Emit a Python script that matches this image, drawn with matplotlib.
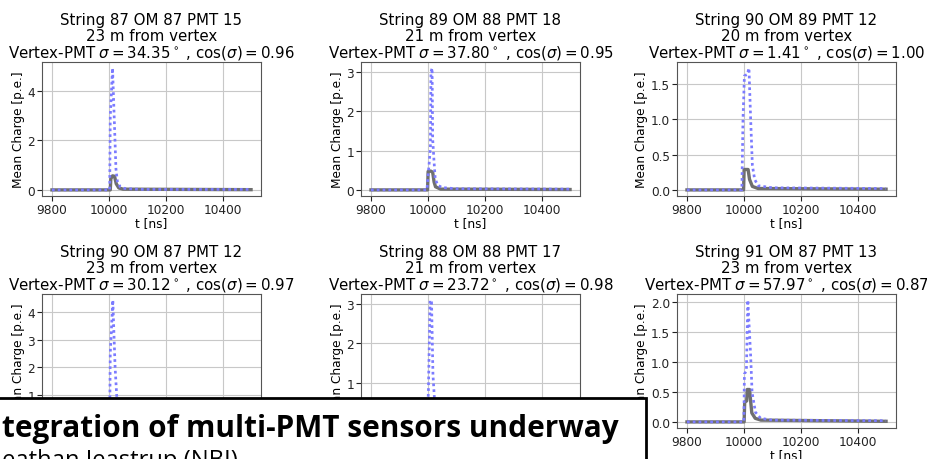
import matplotlib
matplotlib.use('Agg')
import matplotlib.pyplot as plt
from matplotlib.patches import Rectangle

plt.rcParams['font.family'] = ['DejaVu Sans']
plt.rcParams['mathtext.fontset'] = 'dejavusans'

# ---- data ----
strings = [87, 89, 90, 90, 88, 91]
oms = [87, 88, 89, 87, 88, 87]
pmts = [15, 18, 12, 12, 17, 13]
distances = [23, 21, 20, 23, 21, 23]
sigmas = ["34.35", "37.80", "1.41", "30.12", "23.72", "57.97"]
cosines = ["0.96", "0.95", "1.00", "0.97", "0.98", "0.87"]

blue1_t = [9800, 10003, 10005, 10013, 10025, 10030, 10040, 10055, 10080, 10120, 10500]
blue1_v = [0, 0, 2.95, 4.93, 0.85, 0.35, 0.12, 0.06, 0.04, 0.02, 0.02]
gray1_t = [9800, 10005, 10007, 10013, 10020, 10026, 10035, 10050, 10500]
gray1_v = [0, 0, 0.45, 0.57, 0.55, 0.25, 0.08, 0.03, 0.01]

blue2_t = [9800, 9997, 10000, 10005, 10009, 10011, 10015, 10017, 10022, 10026, 10035, 10050, 10100, 10500]
blue2_v = [0, 0, 0.3, 0.7, 1.1, 3.0, 3.1, 1.3, 0.7, 0.28, 0.12, 0.06, 0.03, 0.02]
gray2_t = [9800, 9999, 10001, 10010, 10017, 10022, 10027, 10045, 10500]
gray2_v = [0, 0, 0.47, 0.48, 0.45, 0.2, 0.08, 0.02, 0.01]

blue3_t = [9800, 9993, 9997, 10002, 10012, 10018, 10024, 10030, 10038, 10050, 10100, 10500]
blue3_v = [0, 0, 1.0, 1.62, 1.64, 1.73, 1.0, 0.35, 0.15, 0.06, 0.03, 0.02]
gray3_t = [9800, 9999, 10001, 10015, 10020, 10030, 10050, 10500]
gray3_v = [0, 0, 0.29, 0.29, 0.15, 0.05, 0.02, 0.01]

blue4_t = [9800, 10003, 10005, 10014, 10018, 10022, 10028, 10035, 10045, 10060, 10100, 10500]
blue4_v = [0, 0, 2.5, 4.45, 3.2, 2.0, 0.9, 0.4, 0.15, 0.06, 0.03, 0.02]
gray4_t = [9800, 10004, 10006, 10013, 10020, 10026, 10035, 10050, 10500]
gray4_v = [0, 0, 0.45, 0.52, 0.5, 0.22, 0.07, 0.03, 0.01]

blue5_t = [9800, 9998, 10002, 10008, 10013, 10018, 10024, 10032, 10045, 10100, 10500]
blue5_v = [0, 0, 0.8, 3.1, 3.05, 1.2, 0.5, 0.2, 0.08, 0.03, 0.02]
gray5_t = [9800, 9999, 10001, 10010, 10017, 10022, 10027, 10045, 10500]
gray5_v = [0, 0, 0.45, 0.47, 0.44, 0.2, 0.08, 0.02, 0.01]

blue6_t = [9800, 10000, 10002, 10009, 10014, 10024, 10029, 10041, 10059, 10100, 10500]
blue6_v = [0, 0, 0.8, 0.85, 2.03, 1.1, 0.49, 0.16, 0.06, 0.03, 0.02]
gray6_t = [9800, 10001, 10003, 10010, 10012, 10020, 10028, 10040, 10060, 10500]
gray6_v = [0, 0, 0.33, 0.35, 0.54, 0.54, 0.15, 0.06, 0.03, 0.01]

yticks_list = [[0, 2, 4], [0, 1, 2, 3], [0.0, 0.5, 1.0, 1.5],
               [0, 1, 2, 3, 4], [0, 1, 2, 3], [0.0, 0.5, 1.0, 1.5, 2.0]]
xticks = [9800, 10000, 10200, 10400]

banner_line1 = "tegration of multi-PMT sensors underway"
banner_line2 = "eathan Jeastrup (NBI)"

blues = [(blue1_t, blue1_v), (blue2_t, blue2_v), (blue3_t, blue3_v),
         (blue4_t, blue4_v), (blue5_t, blue5_v), (blue6_t, blue6_v)]
grays = [(gray1_t, gray1_v), (gray2_t, gray2_v), (gray3_t, gray3_v),
         (gray4_t, gray4_v), (gray5_t, gray5_v), (gray6_t, gray6_v)]

# ---- layout ----
W, H = 928, 460
fig = plt.figure(figsize=(W / 100, H / 100), dpi=100)
fig.patch.set_facecolor('white')

col_left = [42, 361, 677]
row_top = [63, 295]
ax_w, ax_h = 219, 134

for i in range(6):
    r, c = divmod(i, 3)
    l = col_left[c]
    t = row_top[r]
    ax = fig.add_axes([l / W, (H - t - ax_h) / H, ax_w / W, ax_h / H])
    gt, gv = grays[i]
    bt, bv = blues[i]
    ax.plot(gt, gv, color='#6f6f6f', lw=2.4, zorder=2)
    ax.plot(bt, bv, color='#7b7bff', lw=1.95, ls=(0, (1, 1.15)), zorder=3)
    ax.set_xticks(xticks)
    ax.set_yticks(yticks_list[i])
    ax.grid(True, color='#c8c8c8', lw=0.8)
    ax.set_axisbelow(True)
    ax.tick_params(labelsize=8.7, colors='#222222', pad=1.5)
    for s in ax.spines.values():
        s.set_color('#555555')
    ax.set_xlabel('t [ns]', fontsize=8.7, labelpad=0)
    ax.set_ylabel('Mean Charge [p.e.]', fontsize=8.7, labelpad=2)
    title = (f"String {strings[i]} OM {oms[i]} PMT {pmts[i]}\n"
             f"{distances[i]} m from vertex\n"
             f"Vertex-PMT $\\sigma = {sigmas[i]}^\\circ$ , $\\cos(\\sigma) = {cosines[i]}$")
    ax.set_title(title, fontsize=10.8, linespacing=1.02, pad=4)

# ---- overlay banner ----
rect = Rectangle((-10 / W, -20 / H), (646 + 10) / W, (H - 399 + 20) / H,
                 transform=fig.transFigure, facecolor='white', edgecolor='black',
                 lw=2.0, zorder=10)
fig.add_artist(rect)
t1 = fig.text(2 / W, (H - 437) / H, banner_line1, fontsize=18, fontweight='bold',
              family=['Open Sans', 'DejaVu Sans'], ha='left', va='baseline', zorder=11)
t2 = fig.text(2 / W, (H - 467) / H, banner_line2, fontsize=16,
              family=['Open Sans', 'DejaVu Sans'], ha='left', va='baseline', zorder=11)

renderer = fig.canvas.get_renderer()
for txt, target in ((t1, 616), (t2, 236)):
    w = txt.get_window_extent(renderer).width
    txt.set_fontsize(txt.get_fontsize() * target / w)

fig.savefig('out.png', dpi=100)
